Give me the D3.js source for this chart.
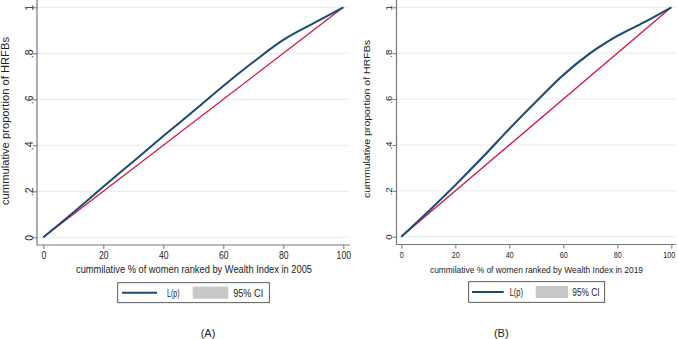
<!DOCTYPE html>
<html>
<head>
<meta charset="utf-8">
<script src="https://cdn.jsdelivr.net/npm/d3@7"></script>
<style>
  body { margin: 0; background: #fff; }
  svg { display: block; font-family: "Liberation Sans", Arial, sans-serif; }
</style>
</head>
<body>
<svg id="chart" width="678" height="339"></svg>
<script>
const popShare   = [0, 10, 20, 30, 40, 50, 60, 70, 80, 90, 100];
const lorenz2005 = [0, 0.108, 0.22, 0.33, 0.44, 0.548, 0.658, 0.762, 0.858, 0.93, 1];
const ci2005Lo   = [0, 0.106, 0.218, 0.327, 0.437, 0.545, 0.655, 0.759, 0.855, 0.928, 1];
const ci2005Hi   = [0, 0.110, 0.222, 0.333, 0.443, 0.551, 0.661, 0.765, 0.861, 0.932, 1];
const lorenz2019 = [0, 0.11, 0.225, 0.345, 0.47, 0.59, 0.705, 0.8, 0.875, 0.935, 1];
const ci2019Lo   = [0, 0.106, 0.219, 0.338, 0.463, 0.583, 0.698, 0.794, 0.87, 0.932, 1];
const ci2019Hi   = [0, 0.114, 0.231, 0.352, 0.477, 0.597, 0.712, 0.806, 0.88, 0.938, 1];
const xTicks = [0, 20, 40, 60, 80, 100];
const yTicks = [0, 0.2, 0.4, 0.6, 0.8, 1];
const yTitle = "cummulative proportion of HRFBs";
const xTitles = ["cummilative % of women ranked by Wealth Index in 2005",
                 "cummilative % of women ranked by Wealth Index in 2019"];
const legendLabels = ["L(p)", "95% CI"];
const panelLabels = ["(A)", "(B)"];

const svg = d3.select("#chart");
const navy = "#1f4a72", red = "#d3143c", grid = "#e4edf0", axisCol = "#777";

function fmtY(d) {
  if (d === 0) return "0";
  if (d === 1) return "1";
  return d3.format(".1f")(d).replace("0.", ".");
}

function drawPanel(p) {
  const g = svg.append("g");
  const x = d3.scaleLinear().domain([0, 100]).range([p.x0, p.x1]);
  const y = d3.scaleLinear().domain([0, 1]).range([p.y0, p.y1]);

  // gridlines
  g.selectAll("line.grid").data(yTicks).join("line")
    .attr("x1", p.axX).attr("x2", p.right)
    .attr("y1", d => y(d)).attr("y2", d => y(d))
    .attr("stroke", grid).attr("stroke-width", 1);

  // y axis
  const ya = g.append("g").attr("transform", `translate(${p.axX},0)`)
    .call(d3.axisLeft(y).tickValues(yTicks).tickSize(4).tickFormat(fmtY));
  ya.select(".domain").remove();
  ya.selectAll(".tick line").attr("stroke", axisCol);
  ya.selectAll(".tick text")
    .attr("transform", "rotate(-90)")
    .attr("x", 0).attr("y", -4.5).attr("dy", 0)
    .attr("text-anchor", "middle")
    .attr("font-size", p.fs).attr("fill", "#222");
  g.append("line").attr("x1", p.axX).attr("x2", p.axX)
    .attr("y1", 0).attr("y2", p.axY + 0.5)
    .attr("stroke", axisCol).attr("stroke-width", 1.2);

  // x axis
  const xa = g.append("g").attr("transform", `translate(0,${p.axY})`)
    .call(d3.axisBottom(x).tickValues(xTicks).tickSize(4).tickPadding(3));
  xa.select(".domain").remove();
  xa.selectAll(".tick line").attr("stroke", axisCol);
  xa.selectAll(".tick text").attr("font-size", p.fs).attr("fill", "#222")
    .attr("textLength", d => String(d).length * p.digitW)
    .attr("lengthAdjust", "spacingAndGlyphs")
    .attr("dx", d => d === 100 ? p.lastDx : 0);
  g.append("line").attr("x1", p.axX).attr("x2", p.right)
    .attr("y1", p.axY).attr("y2", p.axY)
    .attr("stroke", axisCol).attr("stroke-width", 1.2);

  // titles
  g.append("text")
    .attr("transform", `translate(${p.yTitleX},${p.yTitleY}) rotate(-90)`)
    .attr("text-anchor", "middle").attr("font-size", p.titleFs).attr("fill", "#222")
    .attr("textLength", p.yTitleLen).attr("lengthAdjust", "spacingAndGlyphs")
    .text(yTitle);
  g.append("text")
    .attr("x", p.xTitleX).attr("y", 273)
    .attr("text-anchor", "middle").attr("font-size", p.titleFs).attr("fill", "#222")
    .attr("textLength", p.xTitleLen).attr("lengthAdjust", "spacingAndGlyphs")
    .text(p.xTitle);

  // CI band, equality line, curve
  const band = popShare.map((s, i) => ({s, lo: p.lo[i], hi: p.hi[i]}));
  g.append("path").datum(band)
    .attr("fill", "#b8b8b8").attr("opacity", 0.8)
    .attr("d", d3.area().curve(d3.curveMonotoneX).x(d => x(d.s)).y0(d => y(d.lo)).y1(d => y(d.hi)));
  g.append("path").datum([0, 100])
    .attr("fill", "none").attr("stroke", red).attr("stroke-width", 1.3)
    .attr("d", d3.line().x(d => x(d)).y(d => y(d / 100)));
  g.append("path").datum(popShare.map((s, i) => [s, p.curve[i]]))
    .attr("fill", "none").attr("stroke", navy).attr("stroke-width", 2)
    .attr("stroke-linejoin", "round")
    .attr("d", d3.line().curve(d3.curveMonotoneX).x(d => x(d[0])).y(d => y(d[1])));

  // legend
  const L = p.leg;
  g.append("rect").attr("x", L.x).attr("y", L.y).attr("width", L.w).attr("height", L.h)
    .attr("fill", "#fff").attr("stroke", "#333").attr("stroke-width", 0.8);
  g.append("line").attr("x1", L.x + L.lx0).attr("x2", L.x + L.lx1)
    .attr("y1", L.y + L.h / 2).attr("y2", L.y + L.h / 2)
    .attr("stroke", navy).attr("stroke-width", 2);
  g.append("text").attr("x", L.x + L.tx).attr("y", L.y + L.h / 2 + 3.8)
    .attr("font-size", p.legFs).attr("fill", "#222")
    .attr("textLength", L.tw).attr("lengthAdjust", "spacingAndGlyphs")
    .text(legendLabels[0]);
  g.append("rect").attr("x", L.x + L.gx).attr("y", L.y + L.h / 2 - 6).attr("width", L.gw).attr("height", 12)
    .attr("fill", "#c8c8c8");
  g.append("text").attr("x", L.x + L.cx).attr("y", L.y + L.h / 2 + 3.8)
    .attr("font-size", p.legFs).attr("fill", "#222")
    .attr("textLength", L.cw).attr("lengthAdjust", "spacingAndGlyphs")
    .text(legendLabels[1]);

  g.append("text").attr("x", p.capX).attr("y", 336.5)
    .attr("text-anchor", "middle").attr("font-size", 11).attr("fill", "#222")
    .text(p.caption);
}

drawPanel({x0: 43.3, x1: 343.3, y0: 237.3, y1: 7.3, axX: 37, axY: 245, right: 350,
  fs: 10.5, digitW: 4.8, lastDx: 0, titleFs: 10, legFs: 10.5,
  yTitleX: 9, yTitleY: 121, yTitleLen: 168, xTitleX: 194, xTitleLen: 236,
  xTitle: xTitles[0], curve: lorenz2005, lo: ci2005Lo, hi: ci2005Hi,
  leg: {x: 117.7, y: 282.7, w: 151.6, h: 20, lx0: 4.3, lx1: 39.3, tx: 49.3, tw: 12.5,
        gx: 75, gw: 35.6, cx: 115.5, cw: 30},
  capX: 208, caption: panelLabels[0]});

drawPanel({x0: 401.3, x1: 671.3, y0: 236.7, y1: 7.3, axX: 396.5, axY: 244.5, right: 676,
  fs: 9.5, digitW: 4.0, lastDx: -2.5, titleFs: 8.8, legFs: 10,
  yTitleX: 370, yTitleY: 119, yTitleLen: 158, xTitleX: 536.5, xTitleLen: 213,
  xTitle: xTitles[1], curve: lorenz2019, lo: ci2019Lo, hi: ci2019Hi,
  leg: {x: 468.7, y: 281.7, w: 136, h: 20.6, lx0: 3.3, lx1: 35, tx: 41, tw: 13.3,
        gx: 67, gw: 32.3, cx: 103.6, cw: 27.3},
  capX: 501.3, caption: panelLabels[1]});
</script>
</body>
</html>
